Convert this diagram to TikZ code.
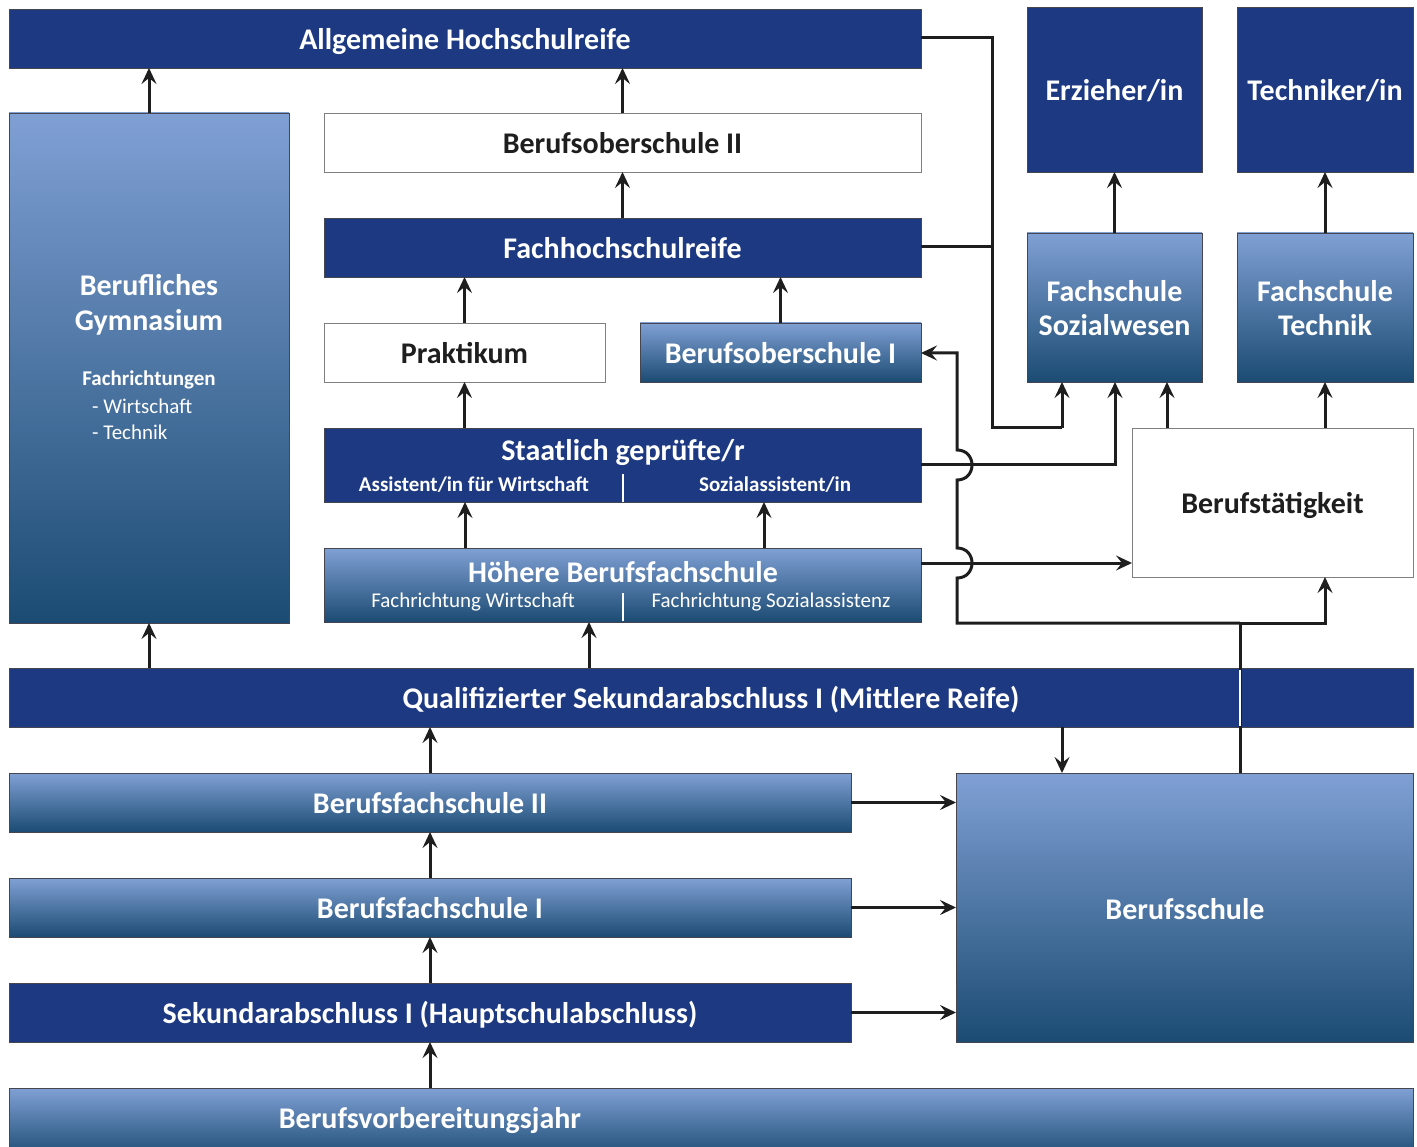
\documentclass[tikz,border=0pt]{standalone}
\usepackage{fontspec}
\setmainfont{Carlito}
\usetikzlibrary{arrows.meta}
\definecolor{navy}{RGB}{29,57,130}
\definecolor{gtop}{RGB}{128,160,212}
\definecolor{gbot}{RGB}{27,75,115}
\definecolor{edge}{RGB}{70,70,80}
\definecolor{ink}{RGB}{30,30,30}
\tikzset{
  x=1pt,y=-1pt,
  box/.style={draw=edge,line width=0.9pt,inner sep=0pt,outer sep=0pt,anchor=north west,align=center,text depth=0pt},
  darkbox/.style={box,fill=navy,text=white},
  gradbox/.style={box,top color=gtop,bottom color=gbot,text=white},
  whitebox/.style={box,fill=white,text=ink,draw=gray},
  big/.style={font=\fontsize{30}{34}\selectfont\bfseries},
  subb/.style={font=\fontsize{21}{24}\selectfont\bfseries,text=white,inner sep=0pt},
  subr/.style={font=\fontsize{21}{24}\selectfont,text=white,inner sep=0pt},
  conn/.style={line width=3pt,draw=ink},
  arr/.style={conn,-{Stealth[length=16pt,width=15pt,inset=6pt]}},
}
\begin{document}
\begin{tikzpicture}
\useasboundingbox (0,0) rectangle (1417,1147);
% boxes
\node[darkbox,big,minimum width=912,minimum height=59] (ahr) at (9,9) {Allgemeine Hochschulreife};
\node[darkbox,big,minimum width=175,minimum height=165] (erz) at (1027,7) {Erzieher/in};
\node[darkbox,big,minimum width=176,minimum height=165] (tech) at (1237,7) {Techniker/in};
\node[gradbox,minimum width=280,minimum height=510] (gym) at (9,113) {};
\node[text=white,align=center,inner sep=0pt,font=\fontsize{30}{35}\selectfont\bfseries] (gymt) at (149,305) {Berufliches\\Gymnasium};
\node[font=\fontsize{21}{24}\selectfont\bfseries,text=white,inner sep=0pt] (gymf) at (149,380) {Fachrichtungen};
\node[font=\fontsize{21}{26}\selectfont,text=white,anchor=west,align=left,inner sep=0pt] (gyml) at (92,419) {- Wirtschaft\\- Technik};
\node[whitebox,big,minimum width=597,minimum height=59] (bos2) at (324,113) {Berufsoberschule II};
\node[darkbox,big,minimum width=597,minimum height=59] (fhr) at (324,218) {Fachhochschulreife};
\node[gradbox,big,minimum width=175,minimum height=149] (fss) at (1027,233) {Fachschule\\Sozialwesen};
\node[gradbox,big,minimum width=176,minimum height=149] (fst) at (1237,233) {Fachschule\\Technik};
\node[whitebox,big,minimum width=281,minimum height=59] (prak) at (324,323) {Praktikum};
\node[gradbox,big,minimum width=281,minimum height=59] (bos1) at (640,323) {Berufsoberschule I};
\node[darkbox,minimum width=597,minimum height=74] (sg) at (324,428) {};
\node[big,text=white,inner sep=0pt] (sgt) at (623,453) {Staatlich geprüfte/r};
\node[subb] (sga) at (474,485) {Assistent/in für Wirtschaft};
\node[subb] (sgb) at (775,485) {Sozialassistent/in};
\node[whitebox,big,minimum width=281,minimum height=149] (btk) at (1132,428) {Berufstätigkeit};
\node[gradbox,minimum width=597,minimum height=74] (hbf) at (324,548) {};
\node[big,text=white,inner sep=0pt] (hbft) at (623,572) {Höhere Berufsfachschule};
\node[subr] (hbfa) at (473,602) {Fachrichtung Wirtschaft};
\node[subr] (hbfb) at (771,602) {Fachrichtung Sozialassistenz};
\node[darkbox,big,minimum width=1404,minimum height=59] (qsa) at (9,668) {Qualifizierter Sekundarabschluss I (Mittlere Reife)};
\node[gradbox,big,minimum width=842,minimum height=59] (bfs2) at (9,773) {Berufsfachschule II};
\node[gradbox,minimum width=457,minimum height=269] (bs) at (956,773) {};
\node[big,text=white,inner sep=0pt] (bst) at (1185,909) {Berufsschule};
\node[gradbox,big,minimum width=842,minimum height=59] (bfs1) at (9,878) {Berufsfachschule I};
\node[darkbox,big,minimum width=842,minimum height=59] (sa1) at (9,983) {Sekundarabschluss I (Hauptschulabschluss)};
\node[gradbox,minimum width=1404,minimum height=70] (bvj) at (9,1088) {};
\node[big,text=white,inner sep=0pt] (bvjt) at (430,1121) {Berufsvorbereitungsjahr};
% dividers
\draw[white,line width=1.2pt] (623,474) -- (623,502);
\draw[white,line width=1.2pt] (623,593) -- (623,621);
% vertical arrows
\draw[arr] (gym.north -| 149,0) -- (ahr.south -| 149,0);
\draw[arr] (bos2.north) -- (bos2.north |- ahr.south);
\draw[arr] (fhr.north) -- (bos2.south);
\draw[arr] (prak.north) -- (prak.north |- fhr.south);
\draw[arr] (bos1.north) -- (bos1.north |- fhr.south);
\draw[arr] (sg.north -| prak.north) -- (prak.south);
\draw[arr] (hbf.north -| 465,0) -- (sg.south -| 465,0);
\draw[arr] (hbf.north -| 764,0) -- (sg.south -| 764,0);
\draw[arr] (qsa.north -| 589,0) -- (hbf.south -| 589,0);
\draw[arr] (qsa.north -| 149,0) -- (gym.south -| 149,0);
\draw[arr] (bfs2.north -| 430,0) -- (qsa.south -| 430,0);
\draw[arr] (bfs1.north -| 430,0) -- (bfs2.south -| 430,0);
\draw[arr] (sa1.north -| 430,0) -- (bfs1.south -| 430,0);
\draw[arr] (bvj.north -| 430,0) -- (sa1.south -| 430,0);
\draw[arr] (fss.north) -- (erz.south);
\draw[arr] (fst.north) -- (tech.south);
\draw[arr] (btk.north -| 1167,0) -- (fss.south -| 1167,0);
\draw[arr] (btk.north -| 1325,0) -- (fst.south -| 1325,0);
% horizontal arrows to Berufsschule
\draw[arr] (bfs2.east) -- (bfs2.east -| bs.west);
\draw[arr] (bfs1.east) -- (bfs1.east -| bs.west);
\draw[arr] (sa1.east) -- (sa1.east -| bs.west);
\draw[arr] (qsa.south -| 1062,0) -- (bs.north -| 1062,0);
% right side routes
\coordinate (jn) at (992,247);
\draw[conn] (ahr.east |- 0,38) -- (992,38) -- (992,428) -- (1062,428);
\draw[arr] (1062,428) -- (fss.south -| 1062,0);
\draw[conn] (fhr.east |- 0,247) -- (jn);
\draw[arr] (sg.east |- 0,465) -- (1115,465) -- (fss.south -| 1115,0);
\draw[arr] (hbf.east |- 0,563) -- (btk.west |- 0,563);
% Berufsschule up-line with hops
\coordinate (bj) at (1240,623);
\draw[conn] (bs.north -| 1240,0) -- (bj);
\draw[white,line width=2pt] (1240,669.5) -- (1240,725.5);
\draw[arr] (bj) -- (1325,623) -- (btk.south -| 1325,0);
\draw[arr] (bj) -- (957,623) -- (957,578)
  .. controls (977,578) and (977,548) .. (957,548)
  -- (957,480)
  .. controls (977,480) and (977,450) .. (957,450)
  -- (957,353) -- (bos1.east |- 0,353);
\end{tikzpicture}
\end{document}
